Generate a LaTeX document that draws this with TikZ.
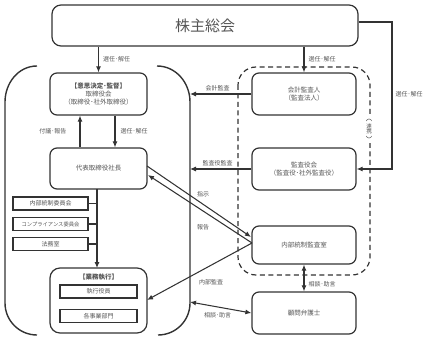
\documentclass[tikz,border=0pt]{standalone}
\usepackage{fontspec}
\setmainfont{Noto Sans CJK JP}
\usetikzlibrary{arrows.meta}
\definecolor{ln}{HTML}{333333}
\definecolor{tx}{HTML}{555555}
\tikzset{
  box/.style={draw=ln, line width=1.2pt, rounded corners=7pt, text=tx, align=center, font=\fontsize{6.5}{8}\selectfont, inner sep=0pt},
  sbox/.style={draw=ln, line width=1.2pt, text=tx, align=center, font=\fontsize{6}{7}\selectfont, inner sep=0pt},
  lab/.style={text=tx, font=\fontsize{6}{7}\selectfont, inner sep=1pt},
  con/.style={draw=ln, line width=1.05pt},
  arr/.style={con, -{Latex[length=6pt,width=5pt]}},
  darr/.style={con, {Latex[length=6pt,width=5pt]}-{Latex[length=6pt,width=5pt]}},
}
\begin{document}
\begin{tikzpicture}[x=1pt,y=-1pt]
\useasboundingbox (0,0) rectangle (435,339);
% shareholders
\node[box, minimum width=306pt, minimum height=41pt, rounded corners=9pt, font=\fontsize{15}{16}\selectfont] (gm) at (205,25.5) {株主総会};
% left bracket shape
\draw[ln, line width=1.4pt] (37,66) to[out=180,in=90] (5,102) -- (5,303) to[out=-90,in=180] (37,335);
\draw[ln, line width=1.4pt] (157,66) to[out=0,in=90] (190,102) -- (190,303) to[out=-90,in=0] (158,335);
\coordinate (lineA) at (190,94);
\coordinate (lineB) at (190,169);
\coordinate (lineC) at (190,302);
% dashed group
\draw[ln, line width=1.2pt, dash pattern=on 5pt off 3.5pt, rounded corners=18pt] (238,67) rectangle (370,275);
% board
\node[box, minimum width=97pt, minimum height=42pt] (bd) at (98.5,94) {\textbf{【意思決定･監督】}\\取締役会\\（取締役･社外取締役）};
\node[box, minimum width=97pt, minimum height=41pt] (ceo) at (98.5,168.5) {代表取締役社長};
\node[sbox, minimum width=75pt, minimum height=13pt] (c1) at (50.5,203.5) {内部統制委員会};
\node[sbox, minimum width=75pt, minimum height=13pt, font=\fontsize{5.3}{6}\selectfont] (c2) at (50.5,224) {コンプライアンス委員会};
\node[sbox, minimum width=75pt, minimum height=13pt] (c3) at (50.5,244) {法務室};
\node[box, minimum width=97pt, minimum height=65pt, rounded corners=10pt] (ex) at (98.5,300.5) {};
\node[text=tx, font=\fontsize{6.5}{8}\selectfont\bfseries] (exl) at (98.5,277) {【業務執行】};
\node[sbox, minimum width=77pt, minimum height=13pt] (ex1) at (98.5,291.5) {執行役員};
\node[sbox, minimum width=77pt, minimum height=13pt] (ex2) at (98.5,316) {各事業部門};
% right column
\node[box, minimum width=104pt, minimum height=42pt] (aud) at (304,94) {会計監査人\\（監査法人）};
\node[box, minimum width=104pt, minimum height=42pt] (kan) at (304,169) {監査役会\\（監査役･社外監査役）};
\node[box, minimum width=104pt, minimum height=38pt] (ia) at (304,245) {内部統制監査室};
\node[box, minimum width=104pt, minimum height=42pt] (law) at (304,313) {顧問弁護士};
% vertical (連携)
\fill[white] (364,114) rectangle (376,143);
\node[text=tx, font=\fontsize{5.5}{6}\selectfont, align=center, inner sep=0pt] (rk) at (369,128.5) {連\\[-1pt]携};
\draw[tx, line width=0.45pt] (366.3,121) .. controls (367,118.3) and (371,118.3) .. (371.7,121);
\draw[tx, line width=0.45pt] (366.3,136) .. controls (367,138.7) and (371,138.7) .. (371.7,136);
% connectors
\draw[arr] (gm.south -| bd.north) -- node[lab, right=3pt] {選任･解任} (bd.north);
\draw[arr] (gm.south -| aud.north) -- node[lab, right=3pt] {選任･解任} (aud.north);
\coordinate (rt1) at (392,22);
\coordinate (rt2) at (392,169);
\draw[arr] (gm.east |- rt1) -- (rt1) -- node[lab, pos=0.49, right=2pt] {選任･解任} (rt2) -- (kan.east);
\draw[arr] ([xshift=-18.5pt]ceo.north) -- node[lab, left=12pt] {付議･報告} ([xshift=-18.5pt]bd.south);
\draw[arr] ([xshift=16.5pt]bd.south) -- node[lab, right=4pt] {選任･解任} ([xshift=16.5pt]ceo.south |- ceo.north);
\draw[arr] (aud.west) -- node[lab, above=1pt, pos=0.55] {会計監査} (lineA);
\draw[arr] (kan.west) -- node[lab, above=1pt, pos=0.55] {監査役監査} (lineB);
% ceo <-> internal audit
\coordinate (iaT) at (251,237);
\coordinate (iaB) at (252,243);
\coordinate (ceoA) at (147,166);
\coordinate (ceoB) at (148,175);
\draw[arr] (ceoA) -- (iaT);
\draw[arr] (iaB) -- (ceoB);
\node[lab] (l1) at (203,194) {指示};
\node[lab] (l2) at (203,227) {報告};
\draw[arr] (iaB) -- (147,300);
\node[lab] (l3) at (211,282) {内部監査};
\draw[darr] (lineC) -- node[lab, below=4pt, pos=0.45] {相談･助言} (law.west);
\draw[darr] (ia.south) -- node[lab, right=3pt, pos=0.72] {相談･助言} (law.north);
% execution line
\coordinate (vx) at (97,189);
\draw[arr] (vx) -- (97,268);
\draw[con] (c1.east) -- (c1.east -| vx);
\draw[con] (c2.east) -- (c2.east -| vx);
\draw[con] (c3.east) -- (c3.east -| vx);
\end{tikzpicture}
\end{document}
